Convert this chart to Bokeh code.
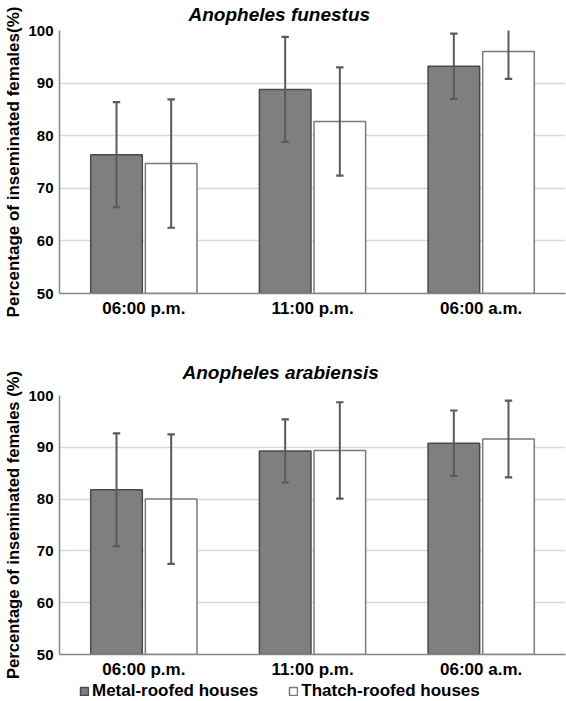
from bokeh.plotting import figure
from bokeh.models import ColumnDataSource, FactorRange, Legend, LegendItem, Range1d
from bokeh.transform import dodge
from bokeh.layouts import column
from bokeh.embed import file_html
from bokeh.resources import INLINE

# ---- data ----
times = ["06:00 p.m.", "11:00 p.m.", "06:00 a.m."]
y_ticks = [50, 60, 70, 80, 90, 100]

funestus_metal = [76.4, 88.8, 93.2]
funestus_metal_err = [10.0, 10.0, 6.2]
funestus_thatch = [74.7, 82.7, 96.0]
funestus_thatch_err = [12.2, 10.3, 5.2]

arabiensis_metal = [81.8, 89.3, 90.8]
arabiensis_metal_err = [10.9, 6.1, 6.3]
arabiensis_thatch = [80.0, 89.4, 91.6]
arabiensis_thatch_err = [12.5, 9.3, 7.4]

series_names = ["Metal-roofed houses", "Thatch-roofed houses"]

FONT = "Liberation Sans"
METAL_FILL = "#7f7f7f"
METAL_LINE = "#4a4a4a"
THATCH_FILL = "#ffffff"
THATCH_LINE = "#7a7a7a"
ERR_COLOR = "#5a5a5a"
OFF = 0.162
BW = 0.306
CAP = 0.022
YMIN, YMAX = 50, 100


def make_panel(title, title_offset, title_standoff, ylabel, ylabel_size, metal, metal_err,
               thatch, thatch_err, height, top_border, bottom_border):
    src = ColumnDataSource(dict(
        time=times,
        metal=metal,
        metal_lo=[v - e for v, e in zip(metal, metal_err)],
        metal_hi=[v + e for v, e in zip(metal, metal_err)],
        thatch=thatch,
        thatch_lo=[v - e for v, e in zip(thatch, thatch_err)],
        thatch_hi=[v + e for v, e in zip(thatch, thatch_err)],
    ))
    p = figure(x_range=FactorRange(*times), y_range=(YMIN, YMAX),
               width=566, height=height, output_backend="svg",
               toolbar_location=None, min_border_left=59, min_border_right=1,
               min_border_top=top_border, min_border_bottom=bottom_border)
    p.outline_line_color = None

    p.vbar(x=dodge("time", -OFF, range=p.x_range), top="metal", bottom=YMIN,
           width=BW, source=src, fill_color=METAL_FILL,
           line_color=METAL_LINE, line_width=1.5)
    p.vbar(x=dodge("time", OFF, range=p.x_range), top="thatch", bottom=YMIN,
           width=BW, source=src, fill_color=THATCH_FILL,
           line_color=THATCH_LINE, line_width=1.5)

    for off, key in ((-OFF, "metal"), (OFF, "thatch")):
        p.segment(x0=dodge("time", off, range=p.x_range), y0=key + "_lo",
                  x1=dodge("time", off, range=p.x_range), y1=key + "_hi",
                  source=src, line_color=ERR_COLOR, line_width=2)
        for end in ("_lo", "_hi"):
            p.segment(x0=dodge("time", off - CAP, range=p.x_range), y0=key + end,
                      x1=dodge("time", off + CAP, range=p.x_range), y1=key + end,
                      source=src, line_color=ERR_COLOR, line_width=2.2)

    # title
    p.title.text = title
    p.title.text_font = FONT
    p.title.text_font_size = "19px"
    p.title.text_font_style = "bold italic"
    p.title.text_color = "black"
    p.title.align = "left"
    p.title.vertical_align = "top"
    p.title.offset = title_offset
    p.title.standoff = title_standoff

    # axes
    p.yaxis.ticker = y_ticks
    p.yaxis.axis_label = ylabel
    p.yaxis.axis_label_text_font = FONT
    p.yaxis.axis_label_text_font_size = ylabel_size
    p.yaxis.axis_label_text_font_style = "bold"
    p.yaxis.axis_label_text_color = "black"
    p.yaxis.axis_label_standoff = 2
    p.yaxis.major_label_standoff = 6
    for ax in (p.xaxis, p.yaxis):
        ax.major_label_text_font = FONT
        ax.major_label_text_font_style = "bold"
        ax.major_label_text_color = "black"
        ax.major_tick_line_color = None
        ax.minor_tick_line_color = None
        ax.major_tick_out = 0
        ax.major_tick_in = 0
        ax.minor_tick_out = 0
        ax.minor_tick_in = 0
        ax.axis_line_color = "#868686"
        ax.axis_line_width = 1.5
    p.yaxis.major_label_text_font_size = "15px"
    p.xaxis.major_label_text_font_size = "17px"
    p.xaxis.major_label_standoff = 5

    p.xgrid.grid_line_color = None
    p.ygrid.grid_line_color = "#d9d9d9"
    p.ygrid.grid_line_width = 1.5
    return p


p1 = make_panel("Anopheles funestus", 129, 7, "Percentage of inseminated females(%)", "17px",
                funestus_metal, funestus_metal_err, funestus_thatch, funestus_thatch_err,
                height=349, top_border=29, bottom_border=56)
p2 = make_panel("Anopheles arabiensis", 123, 22, "Percentage of inseminated females (%)", "16.6px",
                arabiensis_metal, arabiensis_metal_err, arabiensis_thatch, arabiensis_thatch_err,
                height=332, top_border=46, bottom_border=27)

# legend strip under the second panel
p3 = figure(width=566, height=20, x_range=Range1d(0, 1), y_range=Range1d(0, 1),
            output_backend="svg", toolbar_location=None,
            x_axis_location=None, y_axis_location=None,
            min_border_left=0, min_border_right=0, min_border_top=0, min_border_bottom=0)
p3.grid.grid_line_color = None
p3.outline_line_color = None
# hidden proxy renderers that only provide the legend swatches
proxy_src = ColumnDataSource(dict(x=[0], top=[0]))
r_metal = p3.vbar(x="x", top="top", width=0.1, source=proxy_src, fill_color=METAL_FILL,
                  line_color=METAL_LINE, line_width=1.5, visible=False)
r_thatch = p3.vbar(x="x", top="top", width=0.1, source=proxy_src, fill_color=THATCH_FILL,
                   line_color=THATCH_LINE, line_width=1.5, visible=False)
legend = Legend(items=[LegendItem(label=series_names[0], renderers=[r_metal]),
                       LegendItem(label=series_names[1], renderers=[r_thatch])],
                orientation="horizontal", location=(20, 0),
                label_text_font=FONT, label_text_font_size="17px",
                label_text_font_style="bold", label_text_color="black",
                glyph_width=10, glyph_height=10, label_standoff=3,
                spacing=30, padding=0, margin=0, border_line_color=None,
                background_fill_alpha=0, inactive_fill_alpha=0)
p3.add_layout(legend)

layout = column(p1, p2, p3)
open("out.html", "w").write(file_html(layout, INLINE))
